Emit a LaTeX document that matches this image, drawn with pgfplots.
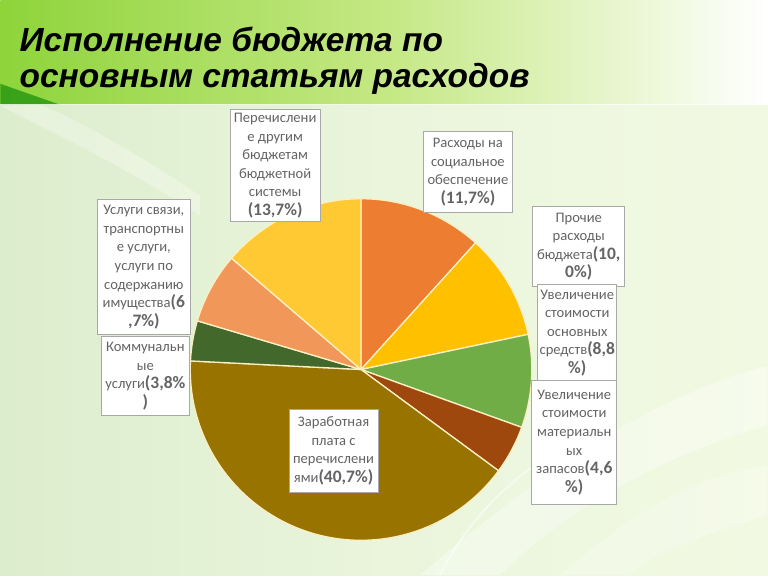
\documentclass[border=0pt]{standalone}
\usepackage{pgfplots}
\pgfplotsset{compat=1.18}
\usepackage{pgfplotstable}
\usepackage{fontspec}
\setmainfont{Carlito}
\newfontfamily\titlefont{Liberation Sans}
\definecolor{pie0}{HTML}{ED7D31}
\definecolor{pie1}{HTML}{FFC000}
\definecolor{pie2}{HTML}{70AD47}
\definecolor{pie3}{HTML}{9E480E}
\definecolor{pie4}{HTML}{997300}
\definecolor{pie5}{HTML}{43682B}
\definecolor{pie6}{HTML}{F1975A}
\definecolor{pie7}{HTML}{FFC933}
\definecolor{sep}{HTML}{FBEFC4}
\definecolor{lbl}{HTML}{646464}
\definecolor{boxline}{HTML}{A8A8A8}
\definecolor{bgL}{HTML}{DCEDCD}
\definecolor{bgM}{HTML}{EAF5DC}
\definecolor{bgR}{HTML}{F2F9E2}
\definecolor{banL}{HTML}{8ED43A}
\definecolor{banM}{HTML}{C4E883}
\definecolor{banR}{HTML}{FFFFFF}
\pgfplotstableread{
value
11.7
10.0
8.8
4.6
40.7
3.8
6.7
13.7
}\piedata
\tikzset{lb/.style={draw=boxline, fill=white, line width=0.8pt},
  tx/.style={text=lbl, align=center, font=\fontsize{14.6}{18.6}\selectfont, inner sep=0pt}}
\newcommand{\pc}[1]{{\fontsize{17.5}{18.6}\selectfont\bfseries #1}}
\begin{document}
\begin{tikzpicture}[x=1pt,y=1pt]
% background
\shade[left color=bgL, right color=bgR, middle color=bgM] (0,0) rectangle (768,471);
\fill[white, opacity=0.35] (420,0) .. controls (560,120) and (660,180) .. (768,210) -- (768,150) .. controls (660,120) and (560,60) .. (500,0) -- cycle;
\fill[white, opacity=0.25] (560,0) .. controls (640,70) and (700,100) .. (768,110) -- (768,60) .. controls (700,40) and (650,20) .. (630,0) -- cycle;
\fill[white, opacity=0.3] (0,470) .. controls (60,440) and (140,400) .. (200,360) -- (200,380) .. controls (140,420) and (80,455) .. (40,471) -- cycle;
\draw[white, opacity=0.5, line width=2pt] (440,0) .. controls (470,60) and (520,110) .. (600,150);
% banner
\shade[left color=banL, right color=banR, middle color=banM] (0,471) rectangle (768,576);
\fill[green!50!black, opacity=0.6] (0,471) -- (0,492) .. controls (20,485) and (40,478) .. (60,471) -- cycle;
\draw[white, line width=1pt, opacity=0.8] (0,471) -- (768,471);
\node[anchor=base west, inner sep=0pt, font=\titlefont\fontsize{33.5}{38}\selectfont\bfseries\itshape, align=left] at (19,524) {Исполнение бюджета по};
\node[anchor=base west, inner sep=0pt, font=\titlefont\fontsize{33.5}{38}\selectfont\bfseries\itshape, align=left] at (19,488) {основным статьям расходов};
\begin{axis}[at={(0,0)}, anchor=origin, x=1pt, y=1pt, scale only axis, hide axis,
  xmin=0, xmax=768, ymin=0, ymax=576, clip=false]
\addplot[draw=none, forget plot] coordinates {(0,0) (768,576)};
\xdef\cum{0}
\pgfplotstableforeachcolumnelement{value}\of\piedata\as\v{%
  \pgfmathsetmacro{\a}{90-3.6*\cum}%
  \pgfmathsetmacro{\b}{90-3.6*(\cum+\v)}%
  \edef\temp{\noexpand\filldraw[fill=pie\pgfplotstablerow, draw=sep, line width=1.3pt, line join=round] (axis cs:361,206) -- ++(\a:171pt) arc[start angle=\a, end angle=\b, radius=171pt] -- cycle;}%
  \temp
  \pgfmathsetmacro{\c}{\cum+\v}%
  \xdef\cum{\c}%
}
% labels
\draw[lb] (axis cs:230,466) rectangle (axis cs:320,354);
\node[tx] at (axis cs:275,410) {Перечислени\\е другим\\бюджетам\\бюджетной\\системы\\\pc{(13,7\%)}};
\draw[lb] (axis cs:423,444) rectangle (axis cs:513,363);
\node[tx] at (axis cs:468,403.5) {Расходы на\\социальное\\обеспечение\\\pc{(11,7\%)}};
\draw[lb] (axis cs:533,369) rectangle (axis cs:625,289);
\node[tx] at (axis cs:579,329) {Прочие\\расходы\\бюджета\pc{(10,}\\\pc{0\%)}};
\draw[lb] (axis cs:538,291) rectangle (axis cs:617,194);
\node[tx] at (axis cs:577.5,242.5) {Увеличение\\стоимости\\основных\\средств\pc{(8,8}\\\pc{\%)}};
\draw[lb] (axis cs:532,195) rectangle (axis cs:617,71);
\node[tx] at (axis cs:574.5,133) {Увеличение\\стоимости\\материальн\\ых\\запасов\pc{(4,6}\\\pc{\%)}};
\draw[lb] (axis cs:289,166) rectangle (axis cs:378,83);
\node[tx] at (axis cs:333.5,124.5) {Заработная\\плата с\\перечислени\\ями\pc{(40,7\%)}};
\draw[lb] (axis cs:97,376) rectangle (axis cs:190,241);
\node[tx] at (axis cs:143.5,308.5) {Услуги связи,\\транспортны\\е услуги,\\услуги по\\содержанию\\имущества\pc{(6}\\\pc{,7\%)}};
\draw[lb] (axis cs:101,239) rectangle (axis cs:189,160);
\node[tx] at (axis cs:145,199.5) {Коммунальн\\ые\\услуги\pc{(3,8\%}\\\pc{)}};
\end{axis}
\end{tikzpicture}
\end{document}
